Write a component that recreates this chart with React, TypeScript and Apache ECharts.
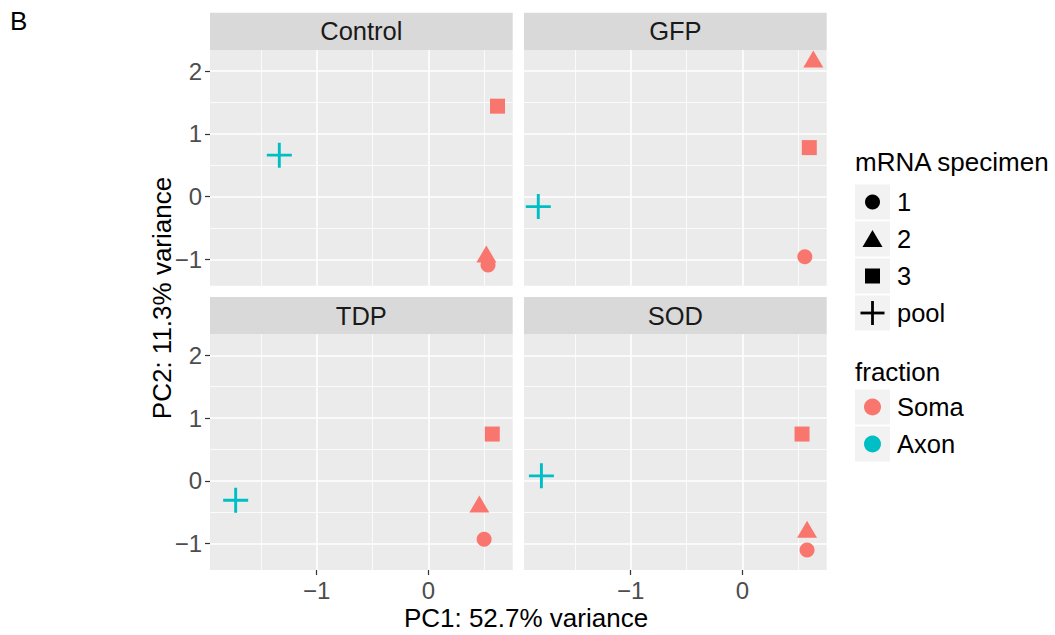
import React, { useEffect, useRef } from "react";
import * as echarts from "echarts";

const panels = ["Control", "GFP", "TDP", "SOD"];
const specimens = ["1", "2", "3", "pool"];
const specimenFraction = ["Soma", "Soma", "Soma", "Axon"];
const fractions = ["Soma", "Axon"];
const fractionColors = ["#F8766D", "#00BFC4"];

// PC1 / PC2 per panel, ordered by specimen: 1, 2, 3, pool
const controlPC1 = [0.535, 0.52, 0.62, -1.335];
const controlPC2 = [-1.09, -0.915, 1.44, 0.66];
const gfpPC1 = [0.56, 0.636, 0.6, -1.828];
const gfpPC2 = [-0.96, 2.19, 0.78, -0.16];
const tdpPC1 = [0.5, 0.457, 0.573, -1.726];
const tdpPC2 = [-0.93, -0.37, 0.746, -0.31];
const sodPC1 = [0.58, 0.58, 0.535, -1.8];
const sodPC2 = [-1.1, -0.77, 0.746, 0.08];

const xTicks = [-1, 0];
const yTicks = [-1, 0, 1, 2];
const xRange = [-1.956, 0.756];
const yRange = [-1.42, 2.335];

const FONT = "'Liberation Sans', Arial, Helvetica, sans-serif";
const PLUS = "path://M0,10.6H24V13.4H0Z M10.6,0H13.4V24H10.6Z";
const symbols = ["circle", "triangle", "rect", PLUS];
const symbolSizes: any[] = [15, [20, 17], 15, 25];

const fmt = (v: number) => (v < 0 ? "\u2212" + Math.abs(v) : String(v));

export default function App() {
  const ref = useRef<HTMLDivElement>(null);
  useEffect(() => {
    if (!ref.current) return;
    const chart = echarts.init(ref.current, undefined, { renderer: "svg" });
    const pc1s = [controlPC1, gfpPC1, tdpPC1, sodPC1];
    const pc2s = [controlPC2, gfpPC2, tdpPC2, sodPC2];

    const W = 302.7, H = 235.7;
    const lefts = [210, 524, 210, 524];
    const tops = [50, 50, 334.3, 334.3];
    const stripH = 37.3;

    const grids = panels.map((_, i) => ({
      left: lefts[i], top: tops[i], width: W, height: H,
      show: true, backgroundColor: "#EBEBEB", borderWidth: 0,
    }));

    const xAxes = panels.map((_, i) => {
      const bottom = i >= 2;
      return {
        gridIndex: i, type: "value", min: xRange[0], max: xRange[1], splitNumber: 3,
        position: "bottom",
        axisLine: { show: false, onZero: false },
        axisTick: { show: bottom, customValues: xTicks, length: 5, lineStyle: { color: "#333333", width: 1.2 } },
        axisLabel: { show: bottom, customValues: xTicks, formatter: fmt, color: "#4D4D4D", fontSize: 24, fontFamily: FONT, margin: 8 },
        splitLine: { show: true, lineStyle: { color: "#FFFFFF", width: 1.6 } },
        minorTick: { show: false, splitNumber: 2 },
        minorSplitLine: { show: true, lineStyle: { color: "#FFFFFF", width: 0.8 } },
      };
    });
    const yAxes = panels.map((_, i) => {
      const left = i % 2 === 0;
      return {
        gridIndex: i, type: "value", min: yRange[0], max: yRange[1], splitNumber: 4,
        position: "left",
        axisLine: { show: false, onZero: false },
        axisTick: { show: left, customValues: yTicks, length: 5, lineStyle: { color: "#333333", width: 1.2 } },
        axisLabel: { show: left, customValues: yTicks, formatter: fmt, color: "#4D4D4D", fontSize: 24, fontFamily: FONT, margin: 8 },
        splitLine: { show: true, lineStyle: { color: "#FFFFFF", width: 1.6 } },
        minorTick: { show: false, splitNumber: 2 },
        minorSplitLine: { show: true, lineStyle: { color: "#FFFFFF", width: 0.8 } },
      };
    });

    const series: any[] = [];
    panels.forEach((p, i) => {
      specimens.forEach((s, k) => {
        const color = fractionColors[fractions.indexOf(specimenFraction[k])];
        series.push({
          type: "scatter", name: p + " " + s, xAxisIndex: i, yAxisIndex: i,
          symbol: symbols[k], symbolSize: symbolSizes[k],
          itemStyle: { color, opacity: 1 },
          data: [[pc1s[i][k], pc2s[i][k]]],
          silent: true,
        });
      });
    });

    const graphic: any[] = [];
    graphic.push({ type: "text", x: 10, y: 8, style: { text: "B", font: `26px ${FONT}`, fill: "#000" } });
    panels.forEach((p, i) => {
      graphic.push({ type: "rect", shape: { x: lefts[i], y: tops[i] - stripH, width: W, height: stripH }, style: { fill: "#D9D9D9" } });
      graphic.push({
        type: "text", x: lefts[i] + W / 2, y: tops[i] - stripH / 2,
        style: { text: p, font: `25.5px ${FONT}`, fill: "#1A1A1A", textAlign: "center", textVerticalAlign: "middle" },
      });
    });
    graphic.push({
      type: "text", x: 526, y: 618,
      style: { text: "PC1: 52.7% variance", font: `26px ${FONT}`, fill: "#000", textAlign: "center", textVerticalAlign: "middle" },
    });
    graphic.push({
      type: "text", x: 162, y: 298, rotation: Math.PI / 2,
      style: { text: "PC2: 11.3% variance", font: `26px ${FONT}`, fill: "#000", textAlign: "center", textVerticalAlign: "middle" },
    });

    // legend: mRNA specimen
    const keyX = 855, keyW = 35;
    graphic.push({ type: "text", x: keyX, y: 162, style: { text: "mRNA specimen", font: `26px ${FONT}`, fill: "#000", textVerticalAlign: "middle" } });
    const rowsA = [202, 239, 276, 313];
    specimens.forEach((s, k) => {
      const cy = rowsA[k], cx = keyX + keyW / 2;
      graphic.push({ type: "rect", shape: { x: keyX, y: cy - 17.5, width: keyW, height: 35 }, style: { fill: "#F2F2F2" } });
      if (k === 0) graphic.push({ type: "circle", shape: { cx, cy, r: 7.5 }, style: { fill: "#000" } });
      if (k === 1) graphic.push({ type: "polygon", shape: { points: [[cx, cy - 9], [cx + 10, cy + 8], [cx - 10, cy + 8]] }, style: { fill: "#000" } });
      if (k === 2) graphic.push({ type: "rect", shape: { x: cx - 7.5, y: cy - 7.5, width: 15, height: 15 }, style: { fill: "#000" } });
      if (k === 3) {
        graphic.push({ type: "rect", shape: { x: cx - 12, y: cy - 1.4, width: 24, height: 2.8 }, style: { fill: "#000" } });
        graphic.push({ type: "rect", shape: { x: cx - 1.4, y: cy - 12, width: 2.8, height: 24 }, style: { fill: "#000" } });
      }
      graphic.push({ type: "text", x: 897, y: cy, style: { text: s, font: `25.5px ${FONT}`, fill: "#000", textVerticalAlign: "middle" } });
    });
    // legend: fraction
    graphic.push({ type: "text", x: keyX, y: 372, style: { text: "fraction", font: `26px ${FONT}`, fill: "#000", textVerticalAlign: "middle" } });
    const rowsB = [407, 444];
    fractions.forEach((f, k) => {
      const cy = rowsB[k], cx = keyX + keyW / 2;
      graphic.push({ type: "rect", shape: { x: keyX, y: cy - 17.5, width: keyW, height: 35 }, style: { fill: "#F2F2F2" } });
      graphic.push({ type: "circle", shape: { cx, cy, r: 8.5 }, style: { fill: fractionColors[k] } });
      graphic.push({ type: "text", x: 897, y: cy, style: { text: f, font: `25.5px ${FONT}`, fill: "#000", textVerticalAlign: "middle" } });
    });

    chart.setOption({
      animation: false,
      backgroundColor: "#FFFFFF",
      grid: grids,
      xAxis: xAxes,
      yAxis: yAxes,
      series,
      graphic,
    });
    return () => chart.dispose();
  }, []);
  return <div ref={ref} style={{ position: "fixed", left: 0, top: 0, width: 1055, height: 635 }} />;
}
